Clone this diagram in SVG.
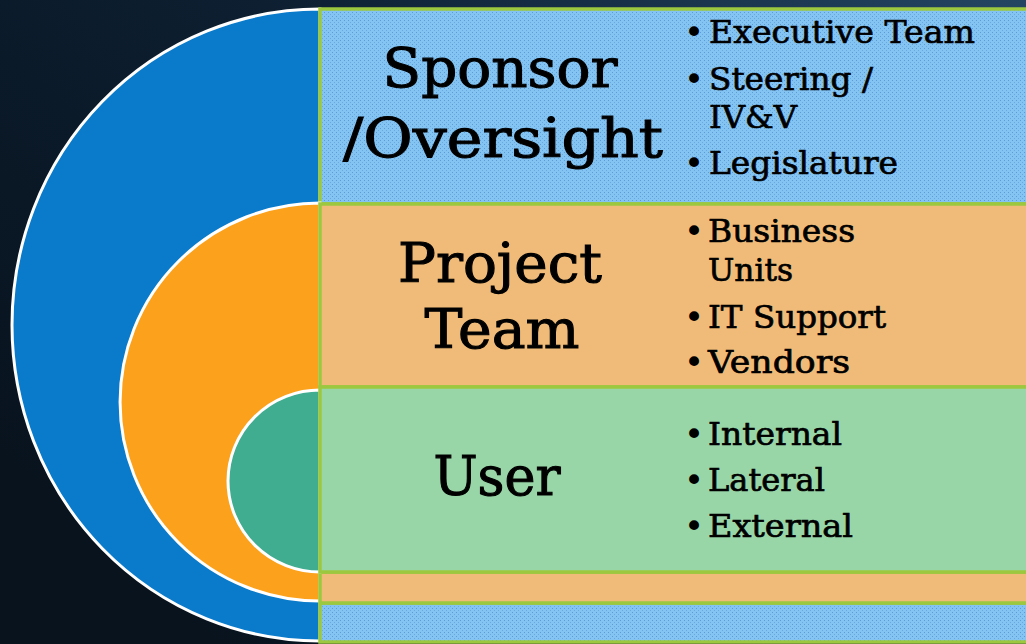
<svg xmlns="http://www.w3.org/2000/svg" width="1026" height="644" viewBox="0 0 1026 644">
<defs>
<linearGradient id="bg" x1="0" y1="0.7" x2="1" y2="0">
<stop offset="0" stop-color="#08131E"/>
<stop offset="0.5" stop-color="#0D1F31"/>
<stop offset="1" stop-color="#244562"/>
</linearGradient>
<pattern id="dots" width="4" height="4" patternUnits="userSpaceOnUse">
<rect width="4" height="4" fill="#84C4F3"/>
<rect x="0" y="0" width="1" height="1" fill="#5C9BD6"/>
<rect x="2" y="2" width="1" height="1" fill="#6AA9DF"/>
</pattern>
<style>
.arc{stroke:#FFFFFF;stroke-width:3}
.band{stroke:#9CC83F;stroke-width:3.5}
.title{font-family:"DejaVu Serif","Liberation Serif",serif;font-size:55px;fill:#000;stroke:#000;stroke-width:1.1;text-anchor:middle}
.item{font-family:"DejaVu Serif","Liberation Serif",serif;font-size:32px;fill:#000;stroke:#000;stroke-width:0.7}
.bul{font-family:"DejaVu Sans","Liberation Sans",sans-serif;font-size:34px;fill:#000}
</style>
</defs>
<rect width="1026" height="644" fill="url(#bg)"/>
<g id="sponsor">
<path class="arc" d="M320,9 A308,316 0 0 0 320,641 Z" fill="#0A7ACB"/>
<rect class="band" x="320" y="9" width="712" height="195" fill="url(#dots)"/>
<rect class="band" x="320" y="603" width="712" height="39" fill="url(#dots)"/>
<text class="title" x="500" y="87" textLength="235" lengthAdjust="spacingAndGlyphs">Sponsor</text>
<text class="title" x="503" y="157" textLength="320" lengthAdjust="spacingAndGlyphs">/Oversight</text>
<text class="bul" x="684" y="44">•</text>
<text class="item" x="709" y="43" textLength="266" lengthAdjust="spacingAndGlyphs">Executive Team</text>
<text class="bul" x="684" y="91">•</text>
<text class="item" x="709" y="90" textLength="164" lengthAdjust="spacingAndGlyphs">Steering /</text>
<text class="item" x="709" y="128" textLength="88" lengthAdjust="spacingAndGlyphs">IV&amp;V</text>
<text class="bul" x="684" y="175">•</text>
<text class="item" x="709" y="174" textLength="189" lengthAdjust="spacingAndGlyphs">Legislature</text>
</g>
<g id="project">
<path class="arc" d="M320,203 A200,199 0 0 0 320,601 Z" fill="#FBA11B"/>
<rect class="band" x="320" y="204" width="712" height="183" fill="#F0BB78"/>
<rect class="band" x="320" y="572" width="712" height="31" fill="#F0BB78"/>
<text class="title" x="500" y="282" textLength="204" lengthAdjust="spacingAndGlyphs">Project</text>
<text class="title" x="502" y="348" textLength="155" lengthAdjust="spacingAndGlyphs">Team</text>
<text class="bul" x="684" y="243">•</text>
<text class="item" x="708" y="242" textLength="147" lengthAdjust="spacingAndGlyphs">Business</text>
<text class="item" x="708" y="281" textLength="85" lengthAdjust="spacingAndGlyphs">Units</text>
<text class="bul" x="684" y="329">•</text>
<text class="item" x="708" y="328" textLength="178" lengthAdjust="spacingAndGlyphs">IT Support</text>
<text class="bul" x="684" y="374">•</text>
<text class="item" x="708" y="373" textLength="142" lengthAdjust="spacingAndGlyphs">Vendors</text>
</g>
<g id="user">
<path class="arc" d="M320,390 A92,91 0 0 0 320,572 Z" fill="#40AC90"/>
<rect class="band" x="320" y="387" width="712" height="185" fill="#98D6A8"/>
<text class="title" x="497" y="495" textLength="127" lengthAdjust="spacingAndGlyphs">User</text>
<text class="bul" x="684" y="446">•</text>
<text class="item" x="708" y="445" textLength="134" lengthAdjust="spacingAndGlyphs">Internal</text>
<text class="bul" x="684" y="492">•</text>
<text class="item" x="708" y="491" textLength="117" lengthAdjust="spacingAndGlyphs">Lateral</text>
<text class="bul" x="684" y="538">•</text>
<text class="item" x="708" y="537" textLength="145" lengthAdjust="spacingAndGlyphs">External</text>
</g>
<g id="connectors"/>
</svg>
